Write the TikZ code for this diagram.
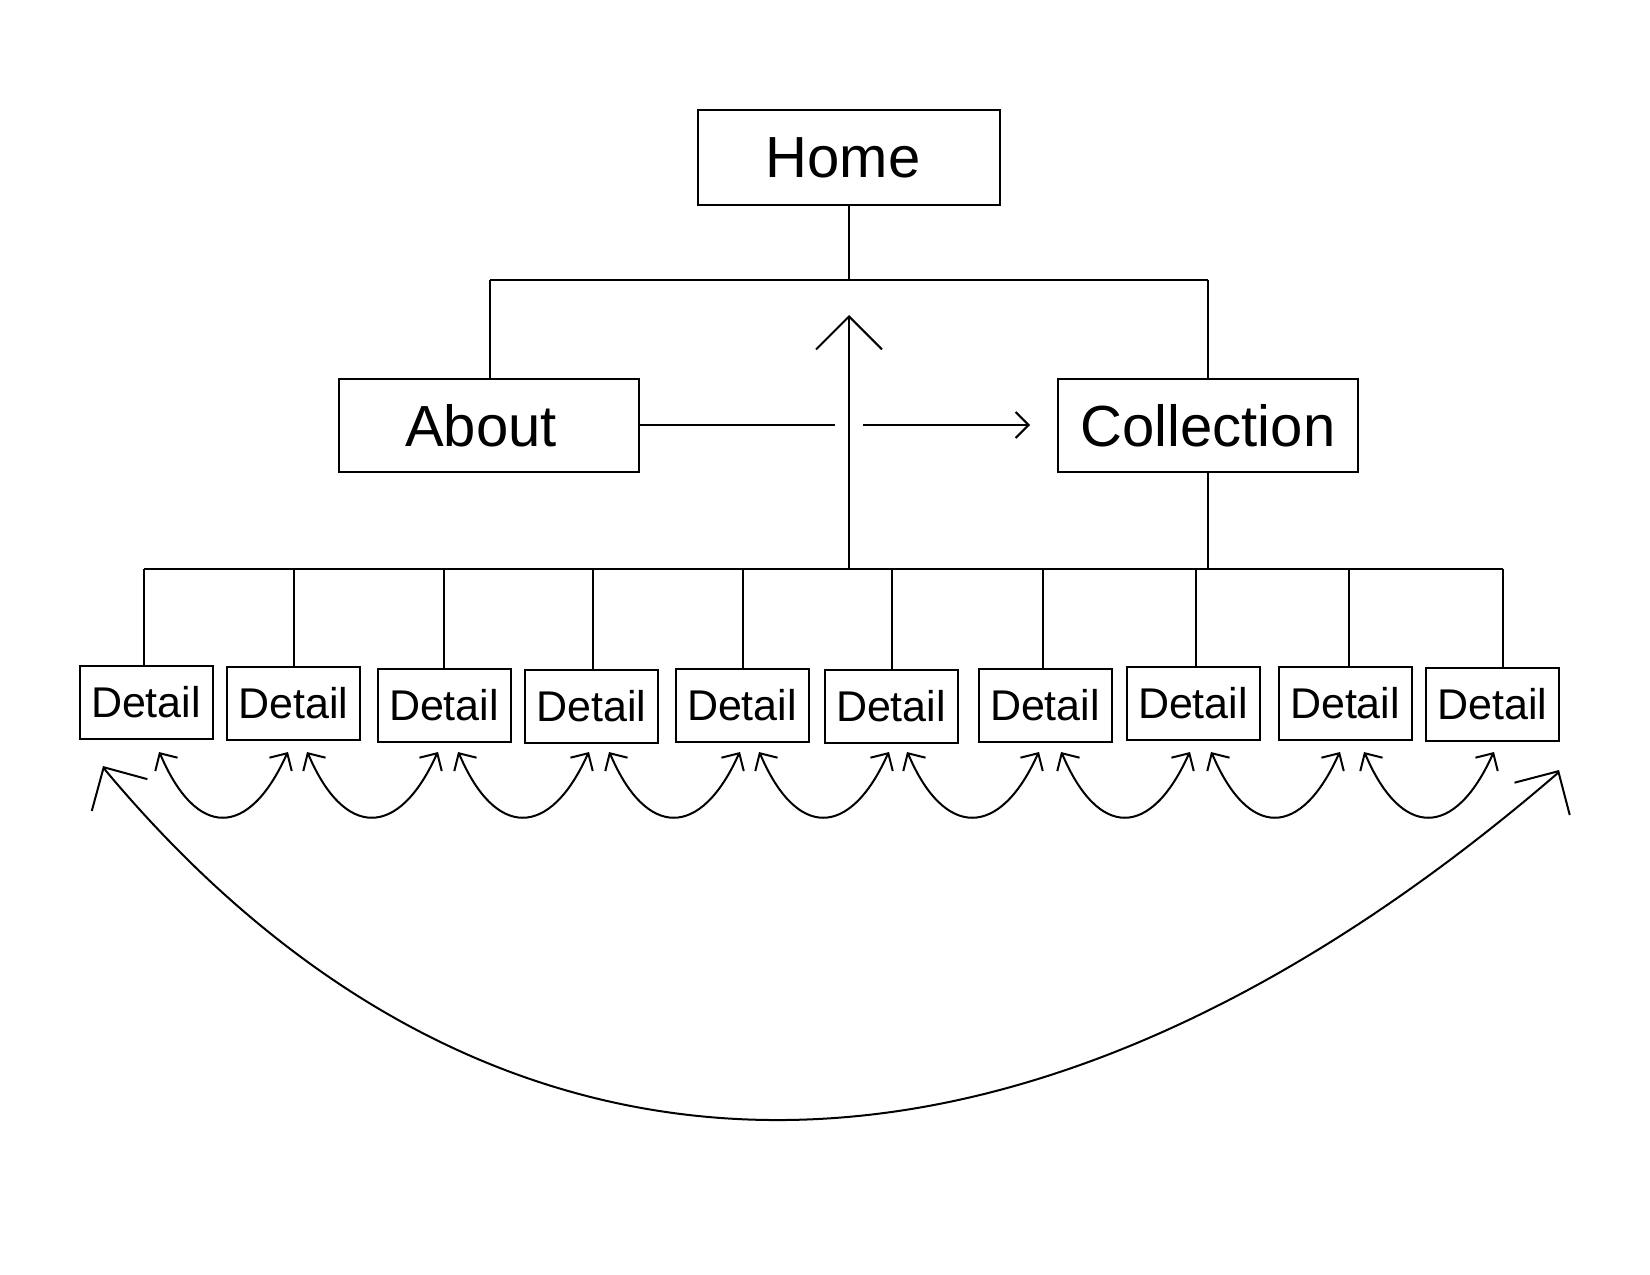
\documentclass[tikz,border=0pt]{standalone}
\usepackage{fontspec}
\setmainfont{Liberation Sans}
\usetikzlibrary{arrows.meta,calc}
\begin{document}
\begin{tikzpicture}[x=0.5pt,y=-0.5pt,line width=1pt,
  bigbox/.style={draw,inner sep=0pt,minimum width=150pt,minimum height=46.5pt,font=\fontsize{29}{34}\selectfont},
  detbox/.style={draw,inner sep=0pt,minimum width=66.5pt,minimum height=36.5pt,font=\fontsize{21.5}{26}\selectfont},
  smallarr/.style={{Straight Barb[length=6.5pt,width=13pt]}-{Straight Barb[length=6.5pt,width=13pt]}},
  bigarr/.style={{Straight Barb[length=16pt,width=32pt]}-{Straight Barb[length=16pt,width=32pt]}},
  uparr/.style={-{Straight Barb[length=16.5pt,width=33pt]}},
  rarr/.style={-{Straight Barb[length=6.5pt,width=13pt]}}]
\useasboundingbox (0,0) rectangle (1650,1275);
% main nodes
\node[bigbox,minimum width=151pt,minimum height=47.5pt] (home) at (849,157.5) {Home\kern6pt};
\node[bigbox] (about) at (488.5,425.5) {About\kern7.5pt};
\node[bigbox] (coll) at (1208,425.5) {Collection};
% detail nodes
\node[detbox] (d1) at (146,702) {Detail};
\node[detbox] (d2) at (293.5,703.5) {Detail};
\node[detbox] (d3) at (444,705.5) {Detail};
\node[detbox] (d4) at (591.5,706.5) {Detail};
\node[detbox] (d5) at (742,705) {Detail};
\node[detbox] (d6) at (891,706.5) {Detail};
\node[detbox] (d7) at (1045,705) {Detail};
\node[detbox] (d8) at (1193,703.5) {Detail};
\node[detbox] (d9) at (1345,703.5) {Detail};
\node[detbox] (d10) at (1492.5,704.5) {Detail};
% top bus
\coordinate (tb) at (849,280);
\coordinate (tbl) at (490,280);
\coordinate (tbr) at (1208,280);
\draw (home.south) -- (tb);
\draw (tbl) -- (tbr);
\draw (tbl) -- (tbl |- about.north);
\draw (tbr) -- (coll.north);
% lower bus
\coordinate (bc) at (849,569);
\coordinate (bcol) at (1208,569);
\draw (coll.south) -- (bcol);
\foreach \i/\x in {1/144,2/294,3/444,4/593,5/743,6/892,7/1043,8/1196,9/1349,10/1503}{
  \coordinate (v\i) at (\x,569);
  \draw (v\i) -- (v\i |- d\i.north);
}
\draw (v1) -- (v10);
% central up arrow
\coordinate (uptip) at (849,315);
\draw[uparr] (bc) -- (uptip);
% horizontal arrow with hop gap
\coordinate (gapl) at (835,425);
\coordinate (gapr) at (863,425);
\coordinate (rtip) at (1030,425);
\draw (about.east |- gapl) -- (gapl);
\draw[rarr] (gapr) -- (rtip);
% small arcs between neighbours
\foreach \i/\l/\r in {1/159/288,2/307/438,3/458/589,4/609/740,5/759/889,6/907/1039,7/1061/1190,8/1211/1340,9/1364/1494}{
  \coordinate (l\i) at (\l,752);
  \coordinate (r\i) at (\r,752);
  \draw[smallarr] (l\i) -- ++(1.2,2) .. controls +(36,85) and +(-38,85) .. ($(r\i)+(-1.2,2)$) -- (r\i);
}
% big arc
\coordinate (bl) at (103,766);
\coordinate (br) at (1559,770);
\draw[bigarr] (bl) -- ++(2.4,4.2) .. controls (495,1236) and (1020,1236) .. ($(br)+(-2.4,4.1)$) -- (br);
\end{tikzpicture}
\end{document}
